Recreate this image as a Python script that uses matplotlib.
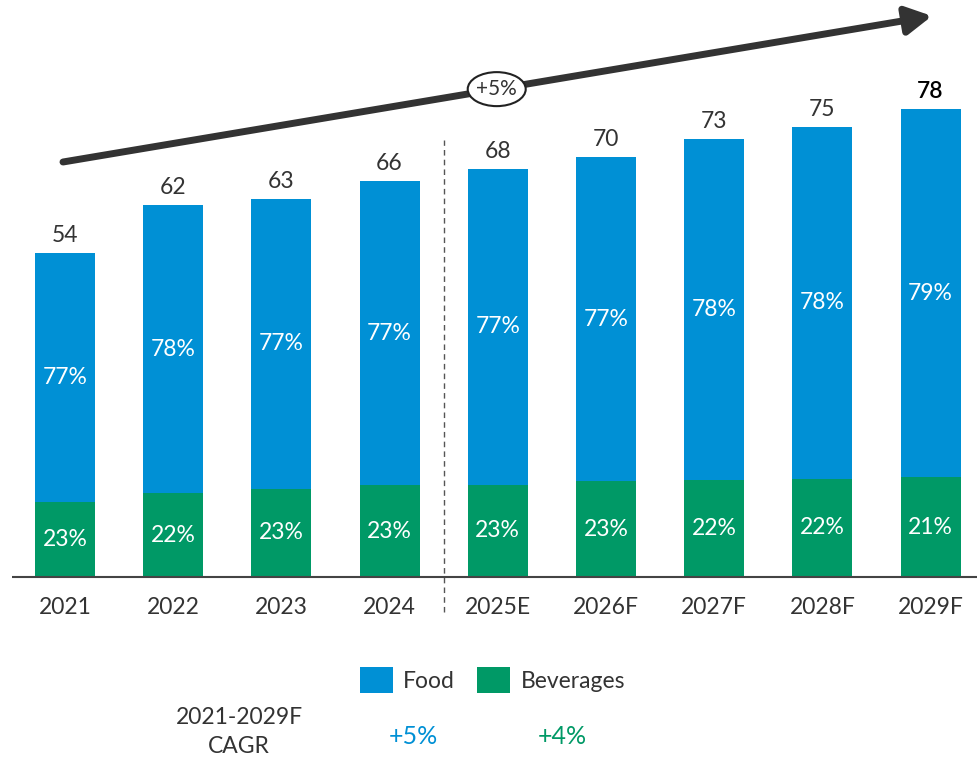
import matplotlib
matplotlib.use("Agg")
import matplotlib.pyplot as plt
from matplotlib.patches import Ellipse, FancyArrowPatch
import numpy as np

plt.rcParams['font.family'] = ['Lato', 'DejaVu Sans']

years = ["2021", "2022", "2023", "2024", "2025E", "2026F", "2027F", "2028F", "2029F"]
totals = [54, 62, 63, 66, 68, 70, 73, 75, 78]
food_pct = [77, 78, 77, 77, 77, 77, 78, 78, 79]
bev_pct = [23, 22, 23, 23, 23, 23, 22, 22, 21]
bev_values = [12.5, 14.0, 14.7, 15.3, 15.4, 16.0, 16.2, 16.4, 16.6]
legend_labels = ["Food", "Beverages"]
cagr_label = "2021-2029F\nCAGR"
cagr_values = ["+5%", "+4%"]
overall_cagr = "+5%"

BLUE = "#0090D5"
GREEN = "#009966"
TEXT = "#333333"

W, H = 978, 760
fig = plt.figure(figsize=(W / 100, H / 100), dpi=100)
ax = fig.add_axes([0, 0, 1, 1])
step = 108.2
x0 = 65
ppu = 6.0
base_px = 577
ax.set_xlim(-x0 / step, (W - x0) / step)
ax.set_ylim(-(H - base_px) / ppu, base_px / ppu)
ax.axis("off")

x = np.arange(len(years))
tot = np.array(totals, float)
bev = np.array(bev_values, float)
food = tot - bev
bw = 60 / step

ax.bar(x, bev, width=bw, color=GREEN, edgecolor="none", zorder=2)
ax.bar(x, food, width=bw, bottom=bev, color=BLUE, edgecolor="none", zorder=2)

fs = 16.5
for i in range(len(years)):
    last = i == len(years) - 1
    col = "#000000" if last else TEXT
    ax.text(x[i], tot[i] + 1.2, str(totals[i]), ha="center", va="bottom",
            fontsize=fs, color=col, fontweight="semibold" if last else "normal")
    ax.text(x[i], bev[i] + food[i] / 2, f"{food_pct[i]}%", ha="center",
            va="center", fontsize=fs, color="white", zorder=3)
    ax.text(x[i], bev[i] / 2, f"{bev_pct[i]}%", ha="center", va="center",
            fontsize=fs, color="white", zorder=3)
    ax.text(x[i], -3.3, years[i], ha="center", va="top", fontsize=fs, color=TEXT)

# baseline
ax.plot([(12 - x0) / step, (W - x0) / step], [0, 0], color="#444444", lw=1.5,
        zorder=4, solid_capstyle="butt")

# dashed separator between actual and forecast
ax.plot([3.5, 3.5], [-5.8, 72.8], color="#555555", lw=1.0, ls=(0, (4, 3)), zorder=1)

# growth arrow
xa0, ya0 = (63 - x0) / step, (base_px - 162) / ppu
xa1, ya1 = (932 - x0) / step, (base_px - 16) / ppu
arr = FancyArrowPatch((xa0, ya0), (xa1, ya1), arrowstyle="-|>,head_length=11,head_width=6",
                      mutation_scale=1.4, lw=5.0, color="#333333", zorder=5,
                      shrinkA=0, shrinkB=0)
ax.add_patch(arr)
xm = 3.99
ym = ya0 + (ya1 - ya0) * (xm - xa0) / (xa1 - xa0)
ell = Ellipse((xm, ym), width=58 / step, height=34 / ppu, facecolor="white",
              edgecolor="#222222", lw=1.5, zorder=6)
ax.add_patch(ell)
ax.text(xm, ym, overall_cagr, ha="center", va="center", fontsize=15, color=TEXT, zorder=7)

# legend
def px2d(px, py):
    return (px - x0) / step, (base_px - py) / ppu

for (sx, lab, col, tx) in [(360, legend_labels[0], BLUE, 403), (477, legend_labels[1], GREEN, 521)]:
    dx, dy = px2d(sx, 693)
    ax.add_patch(plt.Rectangle((dx, dy), 33 / step, 26 / ppu, color=col, lw=0, clip_on=False))
    tx_d, ty_d = px2d(tx, 681)
    ax.text(tx_d, ty_d, lab, ha="left", va="center", fontsize=fs, color=TEXT)

cx, cy = px2d(239, 732)
ax.text(cx, cy, cagr_label, ha="center", va="center", fontsize=fs, color=TEXT,
        linespacing=1.45)
for (px, val, col) in [(413, cagr_values[0], BLUE), (562, cagr_values[1], GREEN)]:
    dx, dy = px2d(px, 737)
    ax.text(dx, dy, val, ha="center", va="center", fontsize=18, color=col)

fig.savefig("out.png", dpi=100, facecolor="white")
